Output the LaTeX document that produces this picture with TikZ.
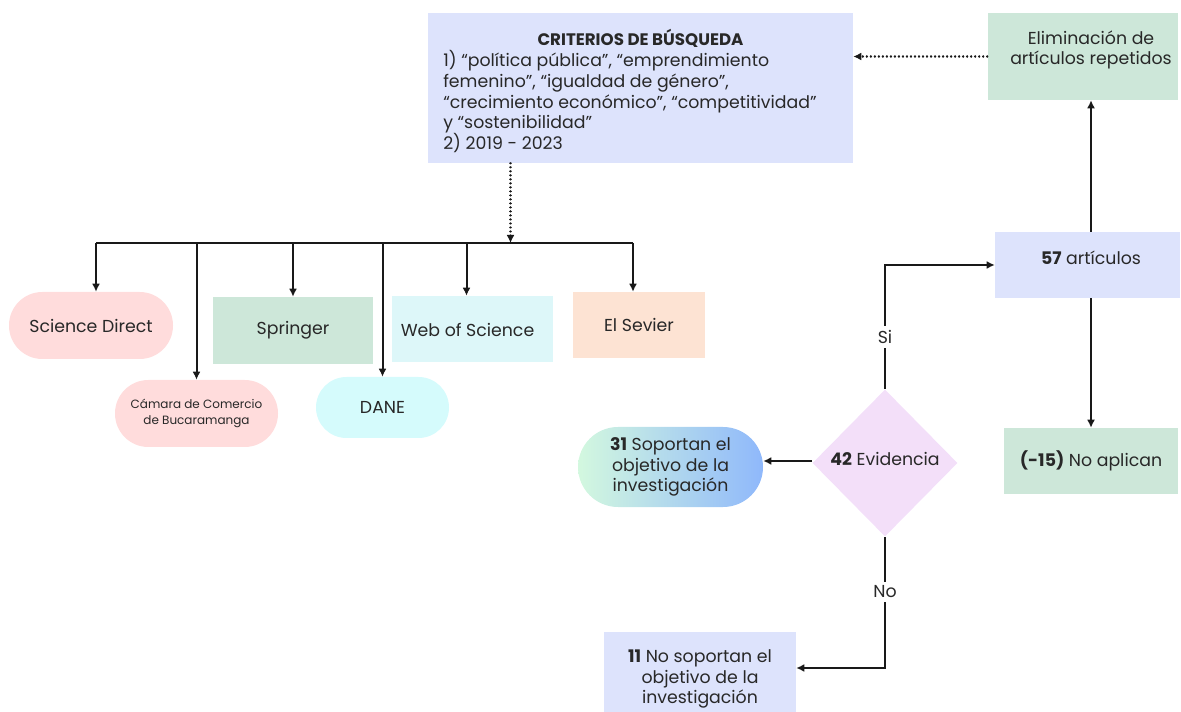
\documentclass[tikz,border=0pt]{standalone}
\usepackage{fontspec}
\setmainfont{Poppins}
\usetikzlibrary{arrows.meta,shapes.geometric}
\definecolor{lav}{RGB}{221,227,252}
\definecolor{grn}{RGB}{205,231,217}
\definecolor{pnk}{RGB}{255,220,220}
\definecolor{cyn}{RGB}{213,251,252}
\definecolor{wos}{RGB}{221,247,249}
\definecolor{sev}{RGB}{253,227,211}
\definecolor{dia}{RGB}{243,223,249}
\definecolor{gl}{RGB}{211,248,223}
\definecolor{gr}{RGB}{143,184,251}
\definecolor{txt}{RGB}{40,40,40}
\begin{document}
\begin{tikzpicture}[x=0.75pt,y=-0.75pt,
  base/.style={draw=none,inner sep=0pt,align=center,text=txt,font=\fontsize{13}{15.5}\selectfont},
  rect/.style={base,rectangle},
  pill/.style={base,rectangle,rounded corners=#1},
  arr/.style={line width=1.5pt,draw=black!90,-{Latex[length=6pt,width=6pt]}},
  dotarr/.style={line width=1.8pt,draw=black!90,dash pattern=on 0.01pt off 3pt,line cap=round,-{Latex[length=6pt,width=6pt]}},
  lbl/.style={fill=white,inner sep=3pt,text=txt,font=\fontsize{13}{15}\selectfont}]
\useasboundingbox (0,0) rectangle (1181,712);
\clip (0,0) rectangle (1181,712);

% top boxes
\node[rect,fill=lav,minimum width=318.75pt,minimum height=112.5pt] (crit) at (640.5,88) {};
\node[base,font=\bfseries\fontsize{12.5}{15.5}\selectfont] (crittitle) at (640.5,38) {CRITERIOS DE BÚSQUEDA};
\node[base,align=left,anchor=north west] (critbody) at (443,50.5) {1) “política pública”, “emprendimiento\\femenino”, “igualdad de género”,\\“crecimiento económico”, “competitividad”\\y “sostenibilidad”\\2) 2019 - 2023};
\node[rect,fill=grn,minimum width=142.5pt,minimum height=65.25pt] (elim) at (1082.5,56.5) {};
\node[base] (elimtxt) at (1091,50) {Eliminación de\\artículos repetidos};

% sources
\coordinate (busy) at (510,243);
\node[pill=25pt,fill=pnk,minimum width=123pt,minimum height=50.25pt] (sd) at (91,325.5) {Science Direct};
\node[pill=25pt,fill=pnk,minimum width=122.25pt,minimum height=50.25pt,font=\fontsize{9}{12}\selectfont] (cam) at (196.5,413.5) {Cámara de Comercio\\de Bucaramanga};
\node[rect,fill=grn,minimum width=120pt,minimum height=50.25pt] (spr) at (293,330.5) {Springer};
\node[pill=22.8pt,fill=cyn,minimum width=99.75pt,minimum height=45.75pt] (dane) at (382.5,407.5) {DANE};
\node[rect,fill=wos,minimum width=120.75pt,minimum height=49.5pt] (wos) at (472.5,329) {};
\node[base] (wostxt) at (467.5,330) {Web of Science};
\node[rect,fill=sev,minimum width=99pt,minimum height=49.5pt] (sev) at (639,325) {El Sevier};

% right flow
\node[rect,fill=lav,minimum width=138.75pt,minimum height=49.5pt] (art) at (1087.5,265) {};
\node[base] (arttxt) at (1091,258) {\textbf{57} artículos};
\node[rect,fill=grn,minimum width=130.5pt,minimum height=49.5pt] (noap) at (1091,461) {\textbf{(-15)} No aplican};
\node[diamond,draw=none,fill=dia,inner sep=0pt,minimum width=108.75pt,minimum height=110.25pt] (ev) at (885,463) {};
\node[base] (evtxt) at (885,459) {\textbf{42} Evidencia};
\node[pill=30pt,left color=gl,right color=gr,minimum width=138.75pt,minimum height=60pt] (sop) at (670.5,467) {\textbf{31} Soportan el\\objetivo de la\\investigación};
\node[rect,fill=lav,minimum width=144pt,minimum height=70.5pt] (nos) at (700,679) {\textbf{11} No soportan el\\objetivo de la\\investigación};

% connectors
\draw[dotarr] (elim.west) -- (elim.west -| crit.east);
\draw[dotarr] ([xshift=-97.5pt]crit.south) -- ([xshift=-97.5pt]crit.south |- busy);
\draw[line width=1.5pt,draw=black!90] ([xshift=3.75pt]sd.north |- busy) -- ([xshift=-4.5pt]sev.north |- busy);
\draw[arr] ([xshift=3.75pt]sd.north |- busy) -- ([xshift=3.75pt]sd.north);
\draw[arr] (cam.north |- busy) -- (cam.north);
\draw[arr] (spr.north |- busy) -- (spr.north);
\draw[arr] (dane.north |- busy) -- (dane.north);
\draw[arr] ([xshift=-4.5pt]wos.north |- busy) -- ([xshift=-4.5pt]wos.north);
\draw[arr] ([xshift=-4.5pt]sev.north |- busy) -- ([xshift=-4.5pt]sev.north);

\draw[arr] (art.north -| noap.north) -- (elim.south -| noap.north);
\draw[arr] (art.south -| noap.north) -- (noap.north);
\draw[arr] (ev.north) -- node[lbl,pos=0.42] (si) {Si} (ev.north |- art.west) -- (art.west);
\draw[arr] ([yshift=1.5pt]ev.west) -- ([yshift=1.5pt]ev.west -| sop.east);
\draw[arr] (ev.south) -- node[lbl,pos=0.42] (no) {No} (ev.south |- 0,668) -- (nos.east |- 0,668);
\end{tikzpicture}
\end{document}
